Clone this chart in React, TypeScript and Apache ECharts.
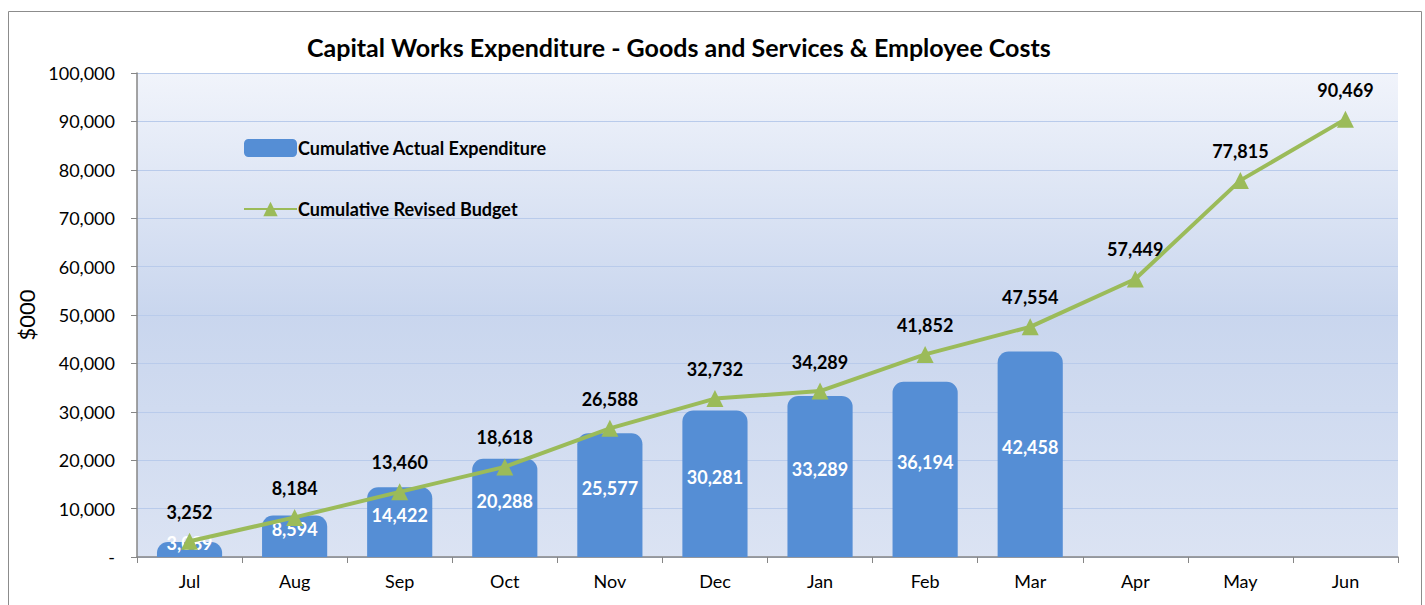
import React, { useEffect, useRef } from "react";
import * as echarts from "echarts";

const categories = ["Jul", "Aug", "Sep", "Oct", "Nov", "Dec", "Jan", "Feb", "Mar", "Apr", "May", "Jun"];
const actualExpenditure = [3089, 8594, 14422, 20288, 25577, 30281, 33289, 36194, 42458, null, null, null];
const revisedBudget = [3252, 8184, 13460, 18618, 26588, 32732, 34289, 41852, 47554, 57449, 77815, 90469];
const yTicks = [0, 10000, 20000, 30000, 40000, 50000, 60000, 70000, 80000, 90000, 100000];

const FONT = "Lato, 'Open Sans', sans-serif";
const fmt = (v: number) => (v === 0 ? "-" : v.toLocaleString("en-US"));

export default function App() {
  const ref = useRef<HTMLDivElement>(null);
  useEffect(() => {
    if (!ref.current) return;
    const chart = echarts.init(ref.current, null, { renderer: "svg" });
    chart.setOption({
      animation: false,
      textStyle: { fontFamily: FONT },
      title: {
        text: "Capital Works Expenditure - Goods and Services & Employee Costs",
        left: 302,
        top: 29,
        textStyle: { fontFamily: FONT, fontSize: 25, fontWeight: "bold", color: "#000" },
      },
      graphic: [
        {
          type: "rect",
          shape: { x: 8.5, y: 11.5, width: 1413, height: 620 },
          style: { fill: "none", stroke: "#8c8c8c", lineWidth: 1 },
          z: -10,
        },
      ],
      legend: {
        orient: "vertical",
        left: 238,
        top: 134,
        itemGap: 43,
        itemWidth: 53,
        itemHeight: 18,
        textStyle: { fontFamily: FONT, fontSize: 18, fontWeight: "bold", color: "#000", padding: [0, 0, 0, -4] },
        data: [
          { name: "Cumulative Actual Expenditure", icon: "roundRect" },
          { name: "Cumulative Revised Budget" },
        ],
      },
      grid: {
        left: 137,
        right: 27,
        top: 73,
        bottom: 48,
        show: true,
        borderWidth: 0,
        backgroundColor: {
          type: "linear",
          x: 0, y: 0, x2: 0, y2: 1,
          colorStops: [
            { offset: 0, color: "#f1f4fb" },
            { offset: 0.5, color: "#c9d6ee" },
            { offset: 1, color: "#dbe3f3" },
          ],
        },
      },
      xAxis: {
        type: "category",
        data: categories,
        axisLine: { lineStyle: { color: "#868686", width: 1.5 } },
        axisTick: { show: true, alignWithLabel: false, length: 6, lineStyle: { color: "#868686" } },
        axisLabel: { fontFamily: FONT, fontSize: 18, color: "#000", margin: 15 },
      },
      yAxis: {
        type: "value",
        min: 0,
        max: 100000,
        interval: 10000,
        name: "$000",
        nameLocation: "middle",
        nameGap: 94,
        nameTextStyle: { fontFamily: FONT, fontSize: 22, color: "#000" },
        axisLine: { show: true, lineStyle: { color: "#868686", width: 1.5 } },
        axisTick: { show: true, length: 6, lineStyle: { color: "#868686" } },
        axisLabel: {
          fontFamily: FONT,
          fontSize: 18,
          color: "#000",
          margin: 22,
          formatter: (v: number) => (yTicks.includes(v) ? fmt(v) : ""),
        },
        splitLine: { lineStyle: { color: "#b9cbeb", width: 1 } },
      },
      series: [
        {
          name: "Cumulative Actual Expenditure",
          type: "bar",
          data: actualExpenditure,
          barWidth: "62%",
          itemStyle: { color: "#558ed5", borderRadius: [11, 11, 0, 0] },
          label: {
            show: true,
            position: "inside",
            offset: [0, -7],
            fontFamily: FONT,
            fontSize: 18,
            fontWeight: "bold",
            color: "#fff",
            formatter: (p: any) => fmt(p.value),
          },
        },
        {
          name: "Cumulative Revised Budget",
          type: "line",
          data: revisedBudget,
          symbol: "triangle",
          symbolSize: 17,
          lineStyle: { color: "#9bbb59", width: 4 },
          itemStyle: { color: "#9bbb59" },
          label: {
            show: true,
            position: "top",
            distance: 12,
            fontFamily: FONT,
            fontSize: 18,
            fontWeight: "bold",
            color: "#000",
            formatter: (p: any) => fmt(p.value),
          },
          z: 3,
        },
      ],
    });
    return () => chart.dispose();
  }, []);
  return <div ref={ref} style={{ position: "absolute", left: 0, top: 0, width: 1425, height: 605 }} />;
}
